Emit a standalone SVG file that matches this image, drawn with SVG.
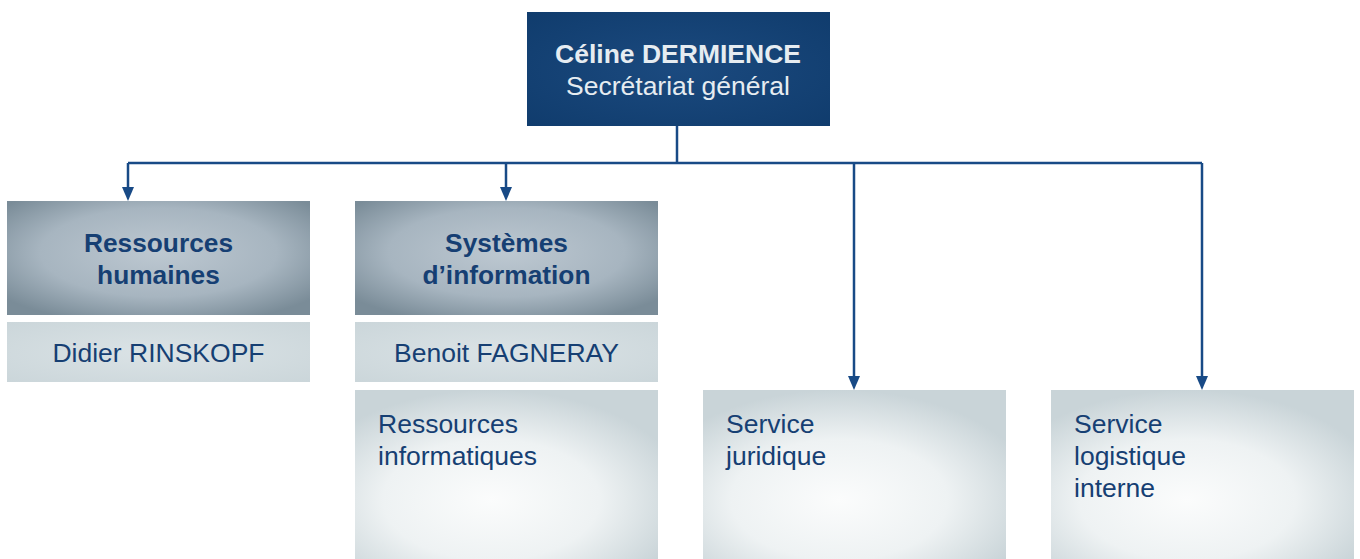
<svg xmlns="http://www.w3.org/2000/svg" width="1360" height="559" viewBox="0 0 1360 559">
<style>
text{font-family:"Liberation Sans",Arial,sans-serif;}
.top{fill:#e6ecf1;font-size:26.5px;text-anchor:middle;}
.hd{fill:#163f73;font-size:26.3px;font-weight:bold;text-anchor:middle;}
.nm{fill:#163f73;font-size:26.5px;text-anchor:middle;}
.bt{fill:#163f73;font-size:26.5px;}
.conn{fill:none;stroke:#184a86;stroke-width:2.5;}
</style>
<defs>
<radialGradient id="gTop" cx="50%" cy="50%" r="70%">
<stop offset="0" stop-color="#1b4a7f"/>
<stop offset="1" stop-color="#103c6d"/>
</radialGradient>
<radialGradient id="gHd" cx="50%" cy="45%" r="65%">
<stop offset="0" stop-color="#bdc8d1"/>
<stop offset="0.6" stop-color="#a7b5c0"/>
<stop offset="1" stop-color="#7a8c98"/>
</radialGradient>
<radialGradient id="gNm" cx="50%" cy="50%" r="70%">
<stop offset="0" stop-color="#dbe3e6"/>
<stop offset="1" stop-color="#cbd6da"/>
</radialGradient>
<radialGradient id="gBt" cx="45%" cy="65%" r="65%">
<stop offset="0" stop-color="#fbfcfc"/>
<stop offset="0.55" stop-color="#eef2f3"/>
<stop offset="1" stop-color="#c9d4d8"/>
</radialGradient>
</defs>

<g id="connectors">
<path class="conn" d="M677,126 V163"/>
<path class="conn" d="M128,163 H1202"/>
<path d="M128,163 V188" class="conn"/>
<path d="M122,187 L134,187 L128,201 Z" fill="#184a86"/>
<path d="M506,163 V188" class="conn"/>
<path d="M500,187 L512,187 L506,201 Z" fill="#184a86"/>
<path d="M854,163 V377" class="conn"/>
<path d="M848,376 L860,376 L854,390 Z" fill="#184a86"/>
<path d="M1202,163 V377" class="conn"/>
<path d="M1196,376 L1208,376 L1202,390 Z" fill="#184a86"/>
</g>

<g id="node-secretariat">
<rect x="527" y="12" width="303" height="114" fill="url(#gTop)"/>
<text class="top" x="678" y="63" font-weight="bold" font-size="27.4px">Céline DERMIENCE</text>
<text class="top" x="678" y="95">Secrétariat général</text>
</g>

<g id="node-rh">
<rect x="7" y="201" width="303" height="114" fill="url(#gHd)"/>
<text class="hd" x="158.5" y="252">Ressources</text>
<text class="hd" x="158.5" y="284">humaines</text>
</g>
<g id="node-rh-name">
<rect x="7" y="322" width="303" height="60" fill="url(#gNm)"/>
<text class="nm" x="158.5" y="362">Didier RINSKOPF</text>
</g>

<g id="node-si">
<rect x="355" y="201" width="303" height="114" fill="url(#gHd)"/>
<text class="hd" x="506.5" y="252">Systèmes</text>
<text class="hd" x="506.5" y="284">d’information</text>
</g>
<g id="node-si-name">
<rect x="355" y="322" width="303" height="60" fill="url(#gNm)"/>
<text class="nm" x="506.5" y="362">Benoit FAGNERAY</text>
</g>
<g id="node-ri">
<rect x="355" y="390" width="303" height="169" fill="url(#gBt)"/>
<text class="bt" x="378" y="433">Ressources</text>
<text class="bt" x="378" y="465">informatiques</text>
</g>

<g id="node-juridique">
<rect x="703" y="390" width="303" height="169" fill="url(#gBt)"/>
<text class="bt" x="726" y="433">Service</text>
<text class="bt" x="726" y="465">juridique</text>
</g>

<g id="node-logistique">
<rect x="1051" y="390" width="303" height="169" fill="url(#gBt)"/>
<text class="bt" x="1074" y="433">Service</text>
<text class="bt" x="1074" y="465">logistique</text>
<text class="bt" x="1074" y="497">interne</text>
</g>
</svg>
